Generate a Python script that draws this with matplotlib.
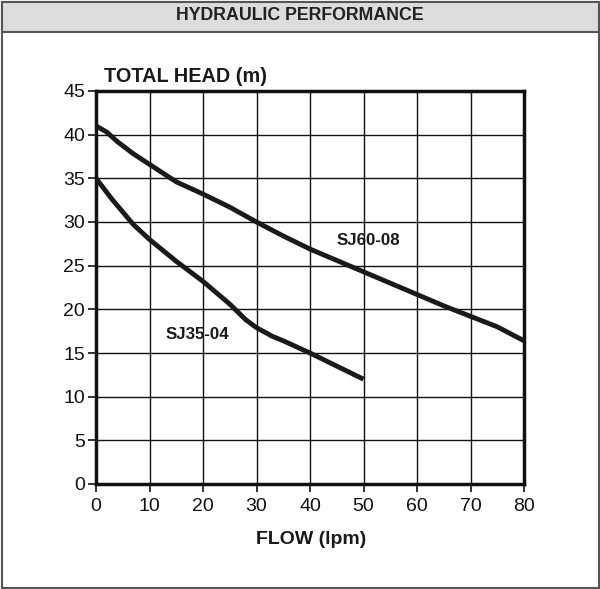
import matplotlib
matplotlib.use("Agg")
import matplotlib.pyplot as plt
from matplotlib.patches import Rectangle

plt.rcParams['font.family'] = ['Liberation Sans', 'DejaVu Sans']

flow_60 = [0, 2, 4, 7, 10, 15, 20, 25, 30, 35, 40, 45, 50, 55, 60, 65, 70, 75, 80]
head_60 = [41, 40.3, 39.2, 37.8, 36.6, 34.6, 33.2, 31.7, 30.0, 28.4, 26.9, 25.6, 24.3, 23.0, 21.7, 20.4, 19.2, 18.0, 16.4]
flow_35 = [0, 3, 7, 10, 15, 20, 25, 28, 30, 33, 35, 40, 45, 50]
head_35 = [35, 32.6, 29.7, 28.0, 25.5, 23.2, 20.6, 18.8, 17.9, 16.9, 16.4, 15.0, 13.5, 12.0]
x_ticks = [0, 10, 20, 30, 40, 50, 60, 70, 80]
y_ticks = [0, 5, 10, 15, 20, 25, 30, 35, 40, 45]

fig = plt.figure(figsize=(6, 5.89), dpi=100)
W, H = 600, 589

# outer frame and header band
fig.patches.append(Rectangle((1.5/W, 1.5/H), 597/W, 586/H, transform=fig.transFigure,
                             fill=False, edgecolor='#555555', linewidth=1.5))
fig.patches.append(Rectangle((1.5/W, (H-32)/H), 597/W, 30.5/H, transform=fig.transFigure,
                             facecolor='#dcdcdc', edgecolor='#555555', linewidth=1.5))
fig.text(0.5, (H-16)/H, 'HYDRAULIC PERFORMANCE', ha='center', va='center',
         fontsize=12.8, fontweight='bold', color='#222222')

ax = fig.add_axes([96/W, (H-484)/H, 428/W, 393/H])
ax.set_xlim(0, 80)
ax.set_ylim(0, 45)
ax.set_xticks(x_ticks)
ax.set_yticks(y_ticks)
ax.grid(True, color='#111111', linewidth=1.0)
ax.set_axisbelow(True)
for s in ax.spines.values():
    s.set_linewidth(2.5)
    s.set_color('#111111')
ax.tick_params(direction='out', length=6, width=1.2, labelsize=14, colors='#111111', pad=2)
ax.tick_params(axis='x', pad=4)

ax.plot(flow_60, head_60, color='#1a1a1a', linewidth=3.5, solid_capstyle='butt', zorder=3)
ax.plot(flow_35, head_35, color='#1a1a1a', linewidth=3.5, solid_capstyle='butt', zorder=3)

ax.text(51.0, 27.9, 'SJ60-08', ha='center', va='center', fontsize=12.2, fontweight='bold',
        color='#1a1a1a', zorder=4)
ax.text(19.0, 17.1, 'SJ35-04', ha='center', va='center', fontsize=12.2, fontweight='bold',
        color='#1a1a1a', zorder=4)

fig.text(104/W, (H-76)/H, 'TOTAL HEAD (m)', ha='left', va='center', fontsize=14.3,
         fontweight='bold', color='#1a1a1a')
fig.text(311/W, (H-539)/H, 'FLOW (lpm)', ha='center', va='center', fontsize=14,
         fontweight='bold', color='#1a1a1a')

fig.savefig('out.png', dpi=100)
